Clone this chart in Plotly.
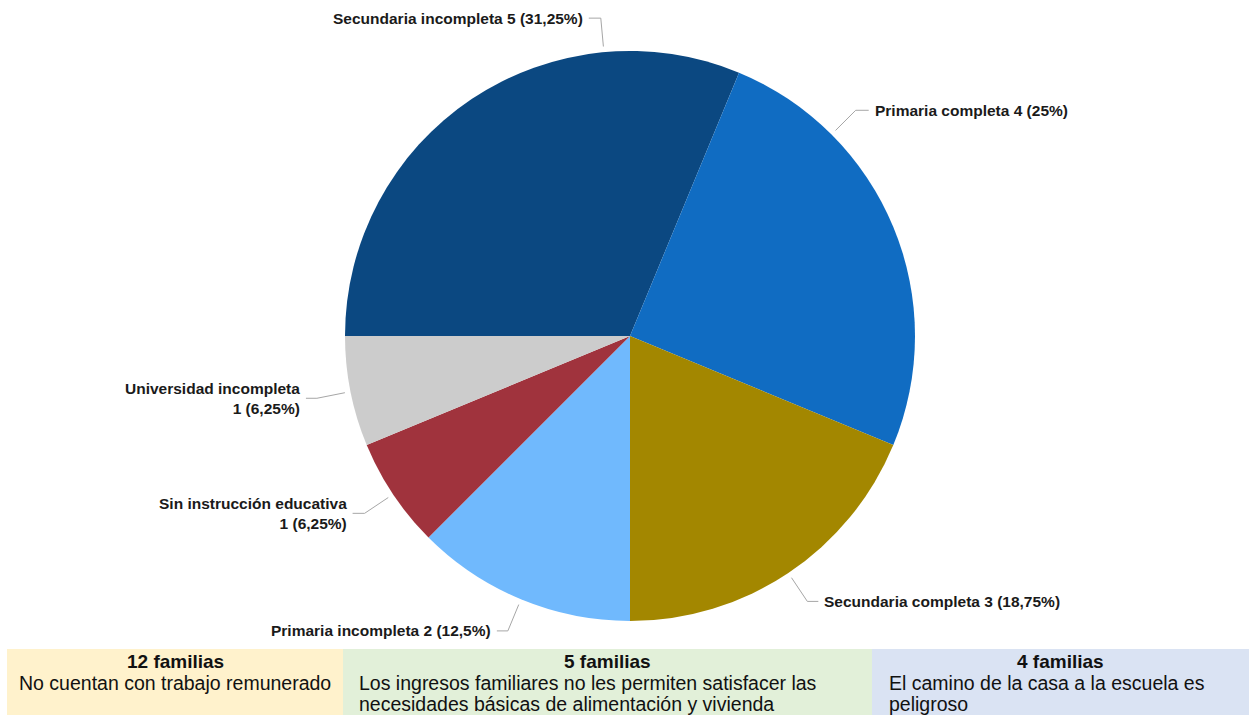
import math
import plotly.graph_objects as go

# Nivel educativo de los jefes de familia
categories = [
    "Secundaria incompleta",
    "Primaria completa",
    "Secundaria completa",
    "Primaria incompleta",
    "Sin instrucción educativa",
    "Universidad incompleta",
]
counts = [5, 4, 3, 2, 1, 1]
slice_colors = ["#0b4881", "#106cc2", "#a38700", "#70b9fd", "#a0333d", "#cccccc"]

# Situación de las familias (recuadros inferiores)
box_titles = ["12 familias", "5 familias", "4 familias"]
box_lines = [
    ["No cuentan con trabajo remunerado"],
    ["Los ingresos familiares no les permiten satisfacer las",
     "necesidades básicas de alimentación y vivienda"],
    ["El camino de la casa a la escuela es", "peligroso"],
]
box_colors = ["#fff2cc", "#e2f0d9", "#dae3f3"]

W, H = 1249, 715
CX, CY, R = 630, 336, 285           # pie centre and radius in pixels
START = 270                          # first slice starts at 9 o'clock
# label placement tweaks: angle shift of leader line, wrapped label, side
leader_shift = [28.5, -22.5, 0, 0, 0, 0]
wrap_label = [False, False, False, False, True, True]
hseg = [12, 13, 11, 11, 12, 11]
FONT = "Liberation Sans, Arial"


def px(x):
    return x / W


def py(y):
    return 1 - y / H


def fmt_pct(v):
    s = f"{v:.2f}".rstrip("0").rstrip(".")
    return s.replace(".", ",") + "%"


total = sum(counts)

fig = go.Figure(go.Pie(
    labels=categories,
    values=counts,
    marker=dict(colors=slice_colors, line=dict(width=0)),
    sort=False,
    direction="clockwise",
    rotation=START,
    textinfo="none",
    hole=0,
    domain=dict(x=[px(CX - R), px(CX + R)], y=[py(CY + R), py(CY - R)]),
    showlegend=False,
))

shapes = []
annotations = []

# leader lines and outside labels
cum = 0
for i, (name, c) in enumerate(zip(categories, counts)):
    span = c / total * 360
    mid = START + cum + span / 2 + leader_shift[i]
    cum += span
    a = math.radians(mid)
    sx, sy = math.sin(a), -math.cos(a)
    x0, y0 = CX + 1.02 * R * sx, CY + 1.02 * R * sy
    x1, y1 = CX + 1.12 * R * sx, CY + 1.12 * R * sy
    side = 1 if sx > 0 else -1
    x2 = x1 + side * hseg[i]
    shapes.append(dict(
        type="path", xref="paper", yref="paper",
        path=f"M {px(x0)},{py(y0)} L {px(x1)},{py(y1)} L {px(x2)},{py(y1)}",
        line=dict(color="#a6a6a6", width=1),
    ))
    pct = fmt_pct(c / total * 100)
    sep = "<br>" if wrap_label[i] else " "
    text = f"<b>{name}{sep}{c} ({pct})</b>"
    annotations.append(dict(
        x=px(x2 + side * 4), y=py(y1), xref="paper", yref="paper",
        text=text, showarrow=False,
        xanchor="left" if side > 0 else "right", yanchor="middle",
        align="left" if side > 0 else "right",
        font=dict(family=FONT, size=15.5, color="#1a1a1a"),
    ))

# bottom information boxes
box_x = [(7, 343), (343, 872), (872, 1249)]
box_text_x = [None, 357, 887]
BY0, BY1 = 649, 715
for i, (xa, xb) in enumerate(box_x):
    shapes.append(dict(
        type="rect", xref="paper", yref="paper",
        x0=px(xa), x1=px(xb), y0=py(BY1), y1=py(BY0),
        fillcolor=box_colors[i], line=dict(width=0), layer="below",
    ))
    annotations.append(dict(
        x=px((xa + xb) / 2), y=py(661), xref="paper", yref="paper",
        text=f"<b>{box_titles[i]}</b>", showarrow=False,
        xanchor="center", yanchor="middle",
        font=dict(family=FONT, size=19, color="#111111"),
    ))
    for j, line in enumerate(box_lines[i]):
        if box_text_x[i] is None:
            ax, anch = px((xa + xb) / 2), "center"
        else:
            ax, anch = px(box_text_x[i]), "left"
        annotations.append(dict(
            x=ax, y=py(683 + 21 * j), xref="paper", yref="paper",
            text=line, showarrow=False,
            xanchor=anch, yanchor="middle",
            font=dict(family=FONT, size=19.5, color="#111111"),
        ))

fig.update_layout(
    width=W, height=H,
    margin=dict(l=0, r=0, t=0, b=0),
    paper_bgcolor="white",
    plot_bgcolor="white",
    shapes=shapes,
    annotations=annotations,
)

fig.write_html("out.html")
